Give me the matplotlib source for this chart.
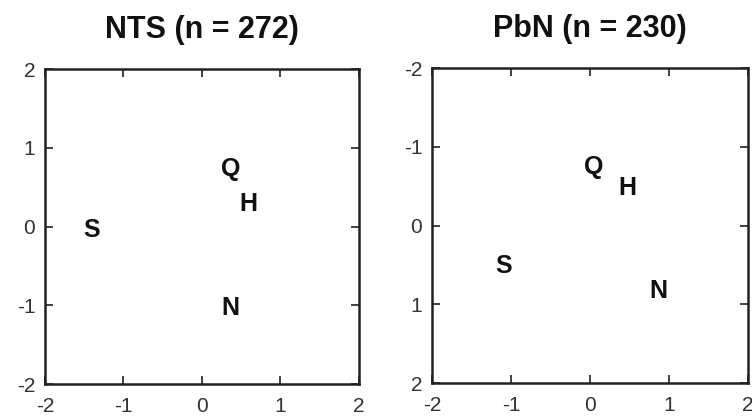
import matplotlib
matplotlib.use('Agg')
import matplotlib.pyplot as plt

plt.rcParams['font.family'] = ['Liberation Sans', 'DejaVu Sans']
plt.rcParams['axes.unicode_minus'] = False

# groups shown in both panels
groups = ['S', 'Q', 'H', 'N']

# NTS panel
nts_title = 'NTS (n = 272)'
nts_x = [-1.41, 0.37, 0.59, 0.36]
nts_y = [-0.04, 0.73, 0.29, -1.03]

# PbN panel (y axis runs downwards)
pbn_title = 'PbN (n = 230)'
pbn_x = [-1.09, 0.05, 0.47, 0.87]
pbn_y = [0.51, -0.74, -0.48, 0.83]

ticks = [-2, -1, 0, 1, 2]

fig = plt.figure(figsize=(7.52, 4.17), dpi=100)
ax1 = fig.add_axes([0.0598, 0.0791, 0.4176, 0.7554])
ax2 = fig.add_axes([0.5745, 0.0815, 0.4202, 0.7554])

panels = [(ax1, nts_title, nts_x, nts_y, False),
          (ax2, pbn_title, pbn_x, pbn_y, True)]

for ax, title, xs, ys, flip in panels:
    for lab, x, y in zip(groups, xs, ys):
        ax.text(x, y, lab, fontsize=18, fontweight='bold',
                ha='center', va='center', color='#111111')
    ax.set_xlim(-2, 2)
    if flip:
        ax.set_ylim(2, -2)
    else:
        ax.set_ylim(-2, 2)
    ax.set_xticks(ticks)
    ax.set_yticks(ticks)
    ax.tick_params(direction='in', length=6, width=1.3, top=True, right=True,
                   labelsize=15, labelcolor='#333333', color='#333333')
    ax.tick_params(axis='x', pad=9)
    ax.tick_params(axis='y', pad=7)
    for sp in ax.spines.values():
        sp.set_linewidth(1.8)
        sp.set_color('#222222')
    ax.set_title(title, fontsize=22, fontweight='bold', pad=22, color='#111111')

fig.savefig('out.png', dpi=100)
